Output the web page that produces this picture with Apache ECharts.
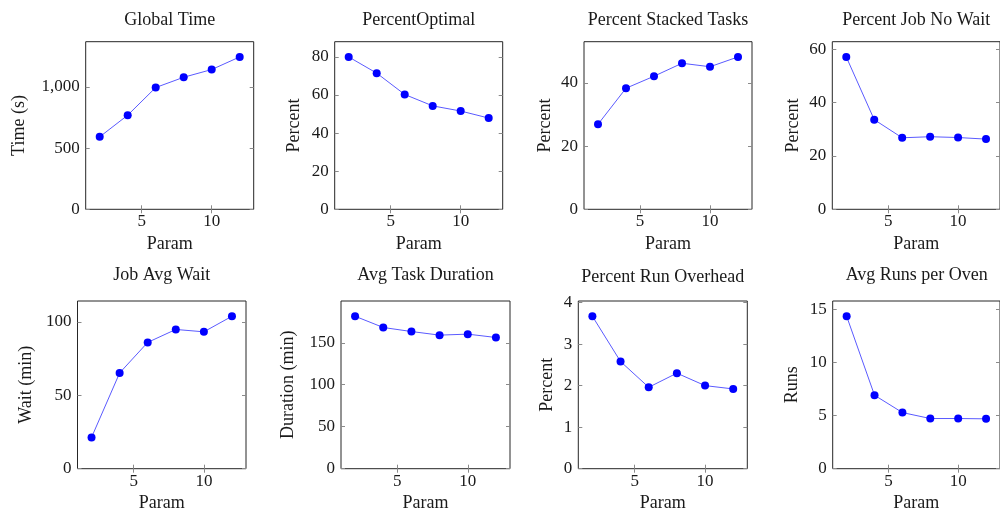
<!DOCTYPE html>
<html>
<head>
<meta charset="utf-8">
<title>Param sweep</title>
<script src="https://cdn.jsdelivr.net/npm/echarts@6/dist/echarts.min.js"></script>
</head>
<body style="margin:0;padding:0;background:#fff">
<div id="main" style="width:1000px;height:516px;margin:0;padding:0"></div>
<script>
// x values shared by every panel
var params = [2, 4, 6, 8, 10, 12];

// series values
var globalTime = [592, 769, 995, 1079, 1142, 1245];
var percentOptimal = [80, 71.5, 60.3, 54.3, 51.6, 47.9];
var percentStacked = [26.9, 38.3, 42.1, 46.2, 45.1, 48.2];
var percentNoWait = [57.1, 33.6, 26.8, 27.2, 26.9, 26.3];
var jobAvgWait = [21.3, 65.2, 86.0, 94.8, 93.2, 103.8];
var avgTaskDuration = [181.6, 168.2, 163.4, 159.1, 160.3, 156.3];
var runOverhead = [3.67, 2.58, 1.96, 2.30, 2.00, 1.92];
var runsPerOven = [14.34, 6.91, 5.28, 4.72, 4.72, 4.69];

var titles = ['Global Time', 'PercentOptimal', 'Percent Stacked Tasks', 'Percent Job No Wait',
              'Job Avg Wait', 'Avg Task Duration', 'Percent Run Overhead', 'Avg Runs per Oven'];
var yNames = ['Time (s)', 'Percent', 'Percent', 'Percent', 'Wait (min)', 'Duration (min)', 'Percent', 'Runs'];
var xName = 'Param';

// tick labels
var xTicks = [5, 10];
var yTicks = [
    [0, 500, 1000],
    [0, 20, 40, 60, 80],
    [0, 20, 40],
    [0, 20, 40, 60],
    [0, 50, 100],
    [0, 50, 100, 150],
    [0, 1, 2, 3, 4],
    [0, 5, 10, 15]
];

var values = [globalTime, percentOptimal, percentStacked, percentNoWait,
              jobAvgWait, avgTaskDuration, runOverhead, runsPerOven];

// panel boxes: left, top, width, height, y name gap, title offset
var boxes = [
    [85.7, 41.7, 168, 167.6, 57, 30],
    [334.7, 41.7, 168, 167.6, 31, 30],
    [584, 41.7, 168, 167.6, 30, 30],
    [832.3, 41.7, 168, 167.6, 30, 30],
    [77.5, 301, 168.5, 167.7, 42, 35],
    [341, 301, 169, 167.7, 44, 35],
    [578.3, 301, 169, 167.7, 22, 33],
    [832.7, 301, 168, 167.7, 31, 35]
];

var font = 'Liberation Serif';
var ink = '#1a1a1a';

function fmt(v) {
    return v.toLocaleString('en-US');
}

var option = { animation: false, title: [], grid: [], xAxis: [], yAxis: [], series: [] };

for (var i = 0; i < 8; i++) {
    var b = boxes[i];
    var ymax = Math.max.apply(null, values[i]) * 1.1;
    option.title.push({
        text: titles[i],
        left: b[0] + b[2] / 2,
        top: b[1] - b[5],
        textAlign: 'center',
        padding: 0,
        textStyle: { fontFamily: font, fontSize: 18, fontWeight: 'normal', color: ink }
    });
    option.grid.push({
        left: b[0], top: b[1], width: b[2], height: b[3],
        show: true, borderColor: '#262626', borderWidth: 1, containLabel: false
    });
    var tick = { show: true, inside: true, length: 4, lineStyle: { color: '#8a8a8a', width: 1 } };
    option.xAxis.push({
        type: 'value', gridIndex: i, min: 1, max: 13, position: 'bottom',
        name: xName, nameLocation: 'middle', nameGap: 26,
        nameTextStyle: { fontFamily: font, fontSize: 18, color: ink },
        axisLine: { show: false },
        axisTick: Object.assign({ customValues: xTicks }, tick),
        axisLabel: { customValues: xTicks, margin: 4, fontFamily: font, fontSize: 17, color: ink },
        splitLine: { show: false }
    });
    option.xAxis.push({
        type: 'value', gridIndex: i, min: 1, max: 13, position: 'top',
        axisLine: { show: false },
        axisTick: Object.assign({ customValues: xTicks }, tick),
        axisLabel: { show: false },
        splitLine: { show: false }
    });
    option.yAxis.push({
        type: 'value', gridIndex: i, min: 0, max: ymax, position: 'left',
        name: yNames[i], nameLocation: 'middle', nameGap: b[4],
        nameTextStyle: { fontFamily: font, fontSize: 18, color: ink },
        axisLine: { show: false },
        axisTick: Object.assign({ customValues: yTicks[i] }, tick),
        axisLabel: { customValues: yTicks[i], margin: 6, formatter: fmt, fontFamily: font, fontSize: 17, color: ink },
        splitLine: { show: false }
    });
    option.yAxis.push({
        type: 'value', gridIndex: i, min: 0, max: ymax, position: 'right',
        axisLine: { show: false },
        axisTick: Object.assign({ customValues: yTicks[i] }, tick),
        axisLabel: { show: false },
        splitLine: { show: false }
    });
    option.series.push({
        type: 'line',
        xAxisIndex: 2 * i,
        yAxisIndex: 2 * i,
        data: params.map(function (p, j) { return [p, values[i][j]]; }),
        symbol: 'circle',
        symbolSize: 8,
        itemStyle: { color: '#0000ff' },
        lineStyle: { color: '#5a5aff', width: 1 }
    });
}

var chart = echarts.init(document.getElementById('main'));
chart.setOption(option);
</script>
</body>
</html>
